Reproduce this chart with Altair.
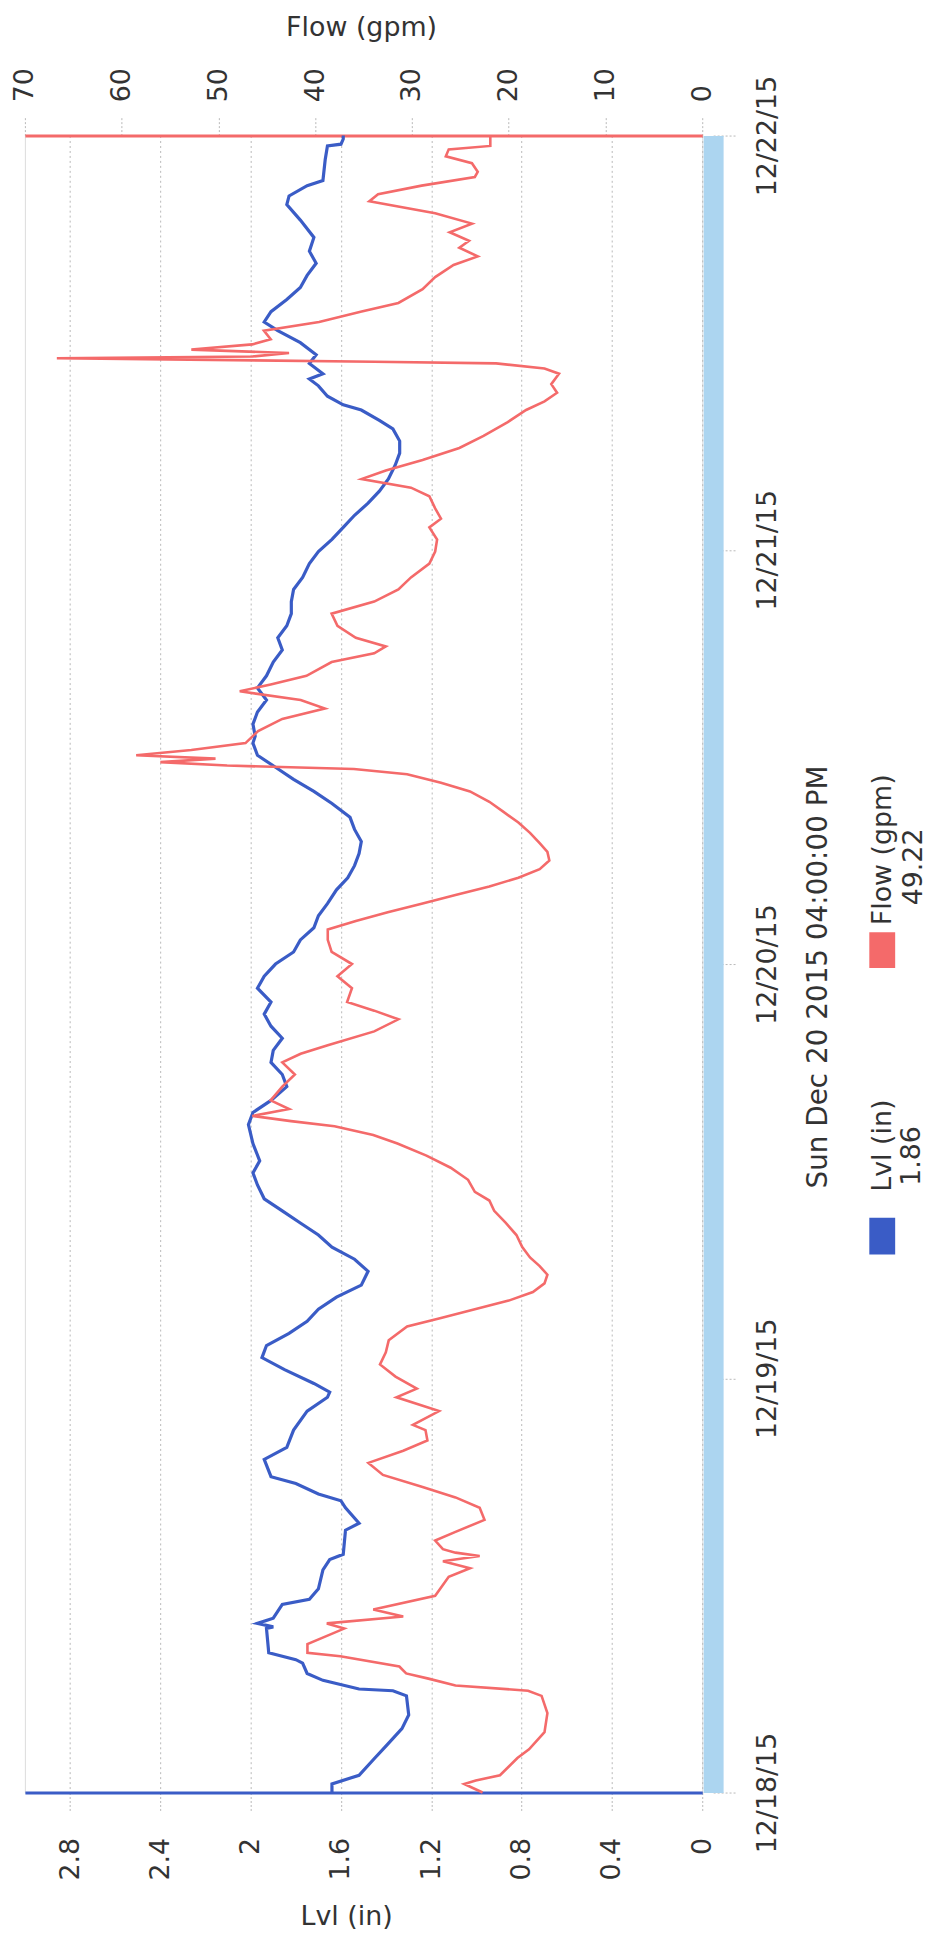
import altair as alt
import pandas as pd

# ---------------- data (hours after 12/18/15 00:00) ----------------
lvl_hours = [0, 0.5, 1.0, 2.0, 2.7, 3.7, 4.5, 5.6, 5.9, 6.0, 6.5, 6.9, 7.5, 7.7, 8.1, 9.5, 9.6, 9.8,
             10.1, 10.9, 11.2, 11.8, 12.9, 13.5, 13.8, 15.2, 15.6, 16.5, 16.9, 17.3, 17.9, 18.3, 19.3,
             20.0, 21.0, 22.1, 22.9, 23.2, 23.7, 24.5, 25.2, 25.9, 26.6, 27.3, 28.0, 28.7, 29.4, 30.2,
             30.9, 31.6, 32.3, 33.0, 33.7, 34.4, 35.2, 35.9, 36.6, 37.6, 38.7, 39.4, 40.1, 40.9, 41.6,
             42.3, 43.0, 43.7, 44.4, 45.1, 45.8, 46.6, 47.3, 48.0, 48.7, 49.4, 50.1, 50.8, 51.5, 52.3,
             53.0, 53.7, 54.4, 55.1, 55.8, 56.5, 57.3, 58.0, 58.7, 59.4, 60.1, 60.8, 61.2, 61.9, 62.6,
             63.3, 64.0, 64.7, 65.5, 66.2, 66.9, 67.6, 68.3, 69.0, 69.7, 70.4, 71.2, 71.9, 72.6, 73.3,
             74.0, 74.7, 75.4, 76.1, 76.9, 77.6, 78.3, 79.0, 79.5, 80.1, 80.4, 80.9, 81.5, 81.9, 82.2,
             82.8, 83.3, 84.0, 84.7, 85.2, 85.8, 86.5, 87.2, 87.9, 88.6, 89.3, 90.1, 91.1, 92.0, 92.5,
             93.1, 93.4, 94.6, 95.4, 95.5, 95.8, 96.0]
lvl_values = [1.64, 1.64, 1.52, 1.45, 1.40, 1.33, 1.30, 1.31, 1.37, 1.52, 1.68, 1.75, 1.77, 1.80, 1.92,
              1.93, 1.90, 1.97, 1.90, 1.86, 1.74, 1.70, 1.68, 1.65, 1.59, 1.58, 1.52, 1.58, 1.60, 1.70,
              1.80, 1.91, 1.94, 1.84, 1.81, 1.75, 1.66, 1.65, 1.72, 1.85, 1.95, 1.93, 1.83, 1.75, 1.70,
              1.62, 1.51, 1.48, 1.54, 1.64, 1.70, 1.78, 1.86, 1.94, 1.97, 1.99, 1.96, 1.99, 2.01, 1.99,
              1.91, 1.84, 1.86, 1.91, 1.90, 1.86, 1.91, 1.94, 1.91, 1.97, 1.94, 1.89, 1.81, 1.78, 1.72,
              1.70, 1.66, 1.62, 1.57, 1.54, 1.52, 1.51, 1.54, 1.56, 1.64, 1.72, 1.81, 1.89, 1.97, 1.99,
              1.98, 1.99, 1.97, 1.93, 1.97, 1.93, 1.90, 1.86, 1.88, 1.84, 1.82, 1.82, 1.81, 1.77, 1.74,
              1.70, 1.64, 1.59, 1.54, 1.48, 1.43, 1.39, 1.36, 1.34, 1.34, 1.37, 1.43, 1.51, 1.59, 1.66,
              1.70, 1.74, 1.68, 1.74, 1.71, 1.78, 1.88, 1.94, 1.91, 1.84, 1.78, 1.75, 1.71, 1.74, 1.72,
              1.78, 1.84, 1.83, 1.75, 1.68, 1.67, 1.66, 1.60, 1.59, 1.59]

flow_hours = [0, 0.5, 0.7, 1.0, 2.0, 2.5, 3.5, 4.6, 5.6, 5.9, 6.2, 6.6, 6.9, 7.3, 7.9, 8.1, 8.6, 9.5,
              9.8, 10.2, 10.6, 11.4, 12.5, 13.0, 13.4, 13.7, 13.9, 14.1, 14.6, 15.1, 15.8, 16.5, 17.1,
              17.7, 18.4, 19.1, 19.8, 20.4, 21.0, 21.3, 22.1, 22.9, 23.4, 24.1, 24.8, 25.5, 26.2, 27.0,
              27.5, 28.0, 28.5, 29.0, 29.5, 30.0, 30.5, 31.0, 31.6, 32.3, 33.0, 33.7, 34.3, 34.8, 35.5,
              36.2, 36.9, 37.6, 38.1, 38.6, 38.9, 39.2, 39.6, 40.1, 40.9, 41.6, 42.3, 42.8, 43.3, 44.1,
              44.8, 45.3, 45.8, 46.6, 47.3, 48.0, 48.7, 49.4, 50.0, 50.5, 51.0, 51.5, 52.0, 52.5, 53.0,
              53.5, 54.0, 54.5, 55.0, 55.6, 56.2, 56.8, 57.4, 58.0, 58.5, 59.0, 59.3, 59.5, 59.7, 59.9,
              60.1, 60.4, 60.8, 61.5, 62.2, 62.8, 63.3, 63.8, 64.2, 64.7, 65.5, 66.0, 66.4, 66.9, 67.6,
              68.3, 69.0, 69.7, 70.4, 71.2, 71.9, 72.6, 73.3, 73.8, 74.4, 75.1, 75.6, 76.1, 76.6, 77.2,
              77.9, 78.6, 79.4, 80.1, 80.6, 81.1, 81.6, 82.2, 82.5, 82.8, 82.9, 83.1, 83.2, 83.4, 83.6,
              83.9, 84.2, 84.7, 85.2, 85.8, 86.3, 87.1, 87.8, 88.5, 89.0, 89.5, 89.9, 90.4, 90.9, 91.5,
              92.2, 92.6, 93.1, 93.6, 93.9, 94.4, 94.8, 95.2, 95.4, 96.0]
flow_values = [22.7, 24.6, 23.4, 20.9, 19.1, 17.9, 16.3, 16.0, 16.6, 18.0, 25.5, 28.3, 30.6, 31.3, 37.4,
               40.8, 40.8, 37.0, 38.8, 30.9, 34.0, 27.6, 26.2, 24.0, 26.8, 23.0, 25.5, 26.8, 27.6, 25.5,
               22.5, 23.0, 25.5, 28.9, 33.0, 34.5, 30.9, 28.4, 28.6, 29.9, 27.2, 31.6, 29.5, 31.7, 33.3,
               32.7, 32.4, 30.5, 27.0, 23.5, 20.0, 17.5, 16.3, 16.0, 16.8, 17.8, 18.6, 19.2, 20.3, 21.5,
               22.0, 23.5, 24.2, 26.0, 28.5, 31.5, 34.0, 38.0, 42.5, 46.5, 42.7, 44.6, 43.4, 42.1, 43.4,
               41.5, 38.7, 33.9, 31.4, 33.9, 36.7, 36.2, 37.7, 36.2, 38.3, 38.7, 38.7, 35.8, 32.5, 29.0,
               25.5, 22.0, 19.0, 16.8, 15.8, 16.0, 16.8, 17.8, 19.0, 20.5, 22.0, 24.0, 27.0, 30.5, 36.0,
               49.1, 56.0, 50.3, 58.5, 52.8, 47.2, 45.9, 43.4, 39.0, 41.5, 47.8, 44.6, 40.9, 38.3, 33.9,
               32.7, 35.8, 37.7, 38.3, 33.9, 31.4, 30.1, 28.2, 27.6, 27.4, 28.2, 27.0, 27.6, 28.2, 30.1,
               35.2, 32.7, 28.9, 25.1, 22.6, 20.1, 18.2, 16.3, 15.0, 15.6, 14.8, 16.3, 21.3, 33.9, 66.7,
               46.5, 42.7, 52.8, 46.5, 44.6, 45.3, 39.6, 35.2, 31.4, 28.9, 27.6, 25.7, 23.2, 25.1, 24.1,
               26.1, 23.8, 27.6, 34.4, 33.5, 29.0, 23.5, 23.2, 23.8, 26.5, 26.2, 21.9, 21.9]

lvl_ticks = [0, 0.4, 0.8, 1.2, 1.6, 2.0, 2.4, 2.8]
flow_ticks = [0, 10, 20, 30, 40, 50, 60, 70]
day_ticks = [0, 24, 48, 72, 96]
day_labels = ["12/18/15", "12/19/15", "12/20/15", "12/21/15", "12/22/15"]
legend_time = ["Sun Dec 20 2015 04:00:00 PM"]
legend_lvl = ["Lvl (in)", "1.86"]
legend_flow = ["Flow (gpm)", "49.22"]

# ---------------- styling ----------------
W, H = 681, 1666
FONT = "DejaVu Sans"
FS = 27
TXT = "#333333"
BLUE = "#3a5cc6"
RED = "#f46a6a"
BAND = "#acd5f0"
GRID = "#b8b8b8"

lvl_df = pd.DataFrame({"h": lvl_hours, "v": lvl_values})
flow_df = pd.DataFrame({"h": flow_hours, "v": flow_values})

label_expr = "[" + ",".join("'%s'" % s for s in day_labels) + "][round(datum.value / 24)]"


def y_axis():
    return alt.Axis(
        orient="right", values=day_ticks, labelExpr=label_expr, labelAngle=270,
        labelAlign="center", labelBaseline="top", offset=11,
        domainColor=BAND, domainWidth=20, tickSize=23, tickColor=GRID, tickDash=[2, 2],
        labelPadding=19, title=None, grid=False, labelFont=FONT, labelFontSize=FS,
        labelColor=TXT,
    )


y_scale = alt.Scale(domain=[0, 96], nice=False, zero=False)

lvl_line = alt.Chart(lvl_df).mark_line(color=BLUE, strokeWidth=3.2).encode(
    x=alt.X("v:Q", scale=alt.Scale(domain=[0, 3.0], reverse=True, nice=False),
            axis=alt.Axis(orient="bottom", values=lvl_ticks, format="~g", labelAngle=270,
                          labelAlign="right", labelBaseline="middle", tickSize=18,
                          labelPadding=27, domainColor=BLUE, domainWidth=3, grid=True,
                          gridDash=[2, 3], gridColor=GRID, tickColor=GRID, tickDash=[2, 2],
                          title="Lvl (in)", titleFont=FONT, titleFontSize=FS,
                          titleFontWeight="normal", titleColor=TXT, titleY=125,
                          titleX=323, titleAlign="center", titleBaseline="middle",
                          labelFont=FONT, labelFontSize=FS, labelColor=TXT)),
    y=alt.Y("h:Q", scale=y_scale, axis=y_axis()),
    order="h:Q",
)

flow_line = alt.Chart(flow_df).mark_line(color=RED, strokeWidth=2.6).encode(
    x=alt.X("v:Q", scale=alt.Scale(domain=[0, 70], reverse=True, nice=False),
            axis=alt.Axis(orient="top", values=flow_ticks, labelAngle=270,
                          labelAlign="left", labelBaseline="middle", tickSize=18,
                          labelPadding=16, domainColor=RED, domainWidth=3, grid=False,
                          tickColor=GRID, tickDash=[2, 2],
                          title="Flow (gpm)", titleFont=FONT, titleFontSize=FS,
                          titleFontWeight="normal", titleColor=TXT, titleY=-109,
                          titleX=338, titleAlign="center", titleBaseline="middle",
                          labelFont=FONT, labelFontSize=FS, labelColor=TXT)),
    y=alt.Y("h:Q", scale=y_scale, axis=y_axis()),
    order="h:Q",
)


# ---------------- legend (rotated, drawn as marks) ----------------
def txt(values, x, y, align, size=FS):
    return alt.Chart(pd.DataFrame({"t": values})).mark_text(
        angle=270, font=FONT, fontSize=size, color=TXT, align=align, baseline="middle"
    ).encode(text="t:N", x=alt.value(x), y=alt.value(y))


leg_time = txt(legend_time, 798, 846, "center", 28)
leg_lvl_name = txt(legend_lvl[:1], 863, 1062, "left")
leg_lvl_val = txt(legend_lvl[1:], 892, 1056, "left")
leg_flow_name = txt(legend_flow[:1], 863, 794, "left")
leg_flow_val = txt(legend_flow[1:], 894, 774, "left")


def swatch(color, y0, y1):
    return alt.Chart(pd.DataFrame({"c": [color]})).mark_rect(color=color).encode(
        x=alt.value(849), x2=alt.value(875), y=alt.value(y0), y2=alt.value(y1)
    )


sw_lvl = swatch(BLUE, 1088, 1125)
sw_flow = swatch(RED, 801, 837)

chart = alt.layer(
    lvl_line, flow_line, leg_time, leg_lvl_name, leg_lvl_val, leg_flow_name, leg_flow_val,
    sw_lvl, sw_flow,
).resolve_scale(x="independent").properties(
    width=W, height=H,
    padding={"left": 17, "top": 123, "right": 226, "bottom": 142},
    autosize=alt.AutoSizeParams(type="none"),
).configure_view(stroke=None).configure(background="white")

chart.save("out.html", embed_options={"renderer": "svg", "actions": False})
